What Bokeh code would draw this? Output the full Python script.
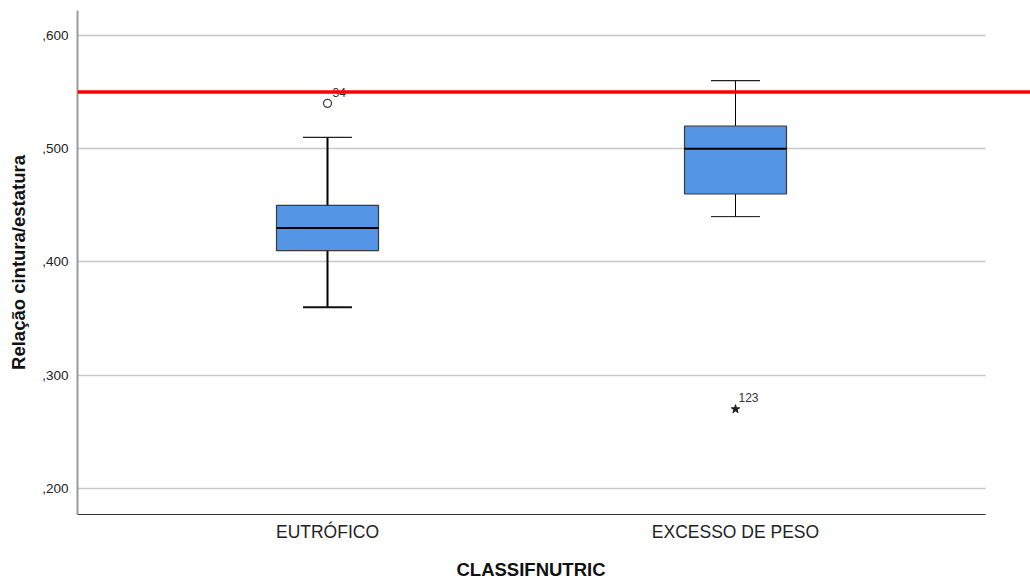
from bokeh.plotting import figure
from bokeh.models import FixedTicker, Span, ColumnDataSource, Title
from bokeh.core.properties import value
from bokeh.embed import file_html
from bokeh.resources import INLINE

# Box-plot summary per nutritional class
categories = ["EUTRÓFICO", "EXCESSO DE PESO"]
lower_whisker = [0.36, 0.44]
q1 = [0.41, 0.46]
median = [0.43, 0.50]
q3 = [0.45, 0.52]
upper_whisker = [0.51, 0.56]

# Outliers (circle) and extremes (star), with case numbers
outlier_group = [1]
outlier_value = [0.54]
outlier_case = ["34"]
extreme_group = [2]
extreme_value = [0.27]
extreme_case = ["123"]

# Reference cut-off
cutoff = 0.55

y_ticks = [0.2, 0.3, 0.4, 0.5, 0.6]
y_tick_labels = [",200", ",300", ",400", ",500", ",600"]

FONT = "Liberation Sans"
x_pos = [i + 1 for i in range(len(categories))]

px_per_unit = 408.0
x_start = 1 - 250 / px_per_unit
x_end = x_start + 953 / px_per_unit
grid_end = 2 + 250 / px_per_unit
y_start, y_end = 0.177, 0.622

p = figure(frame_width=953, frame_height=504, output_backend="svg", toolbar_location=None,
           x_range=(x_start, x_end), y_range=(y_start, y_end),
           min_border_left=77, min_border_right=0, min_border_top=10,
           min_border_bottom=65)
p.outline_line_color = None
p.background_fill_color = "white"
p.border_fill_color = "white"

# Horizontal grid
p.xgrid.visible = False
p.ygrid.ticker = FixedTicker(ticks=y_ticks)
p.ygrid.grid_line_color = "#c8c8c8"
p.ygrid.grid_line_width = 1.5
p.ygrid.cross_bounds = (x_start, grid_end)

# Axes
p.xaxis.ticker = FixedTicker(ticks=x_pos)
p.xaxis.major_label_overrides = {x: c for x, c in zip(x_pos, categories)}
p.xaxis.bounds = (x_start, grid_end)
p.xaxis.axis_line_color = "#333333"
p.xaxis.axis_line_width = 1
p.xaxis.major_tick_line_color = None
p.xaxis.minor_tick_line_color = None
p.xaxis.major_label_text_font = FONT
p.xaxis.major_label_text_font_size = "17.5px"
p.xaxis.major_label_text_color = "#222222"
p.xaxis.major_label_standoff = 1

# X title, centred under the drawn axis line rather than the whole frame
p.add_layout(Title(text="CLASSIFNUTRIC", align="left", offset=379,
                   text_font=FONT, text_font_size="18.5px", text_font_style="bold",
                   text_color="#111111", standoff=24), "below")

p.yaxis.ticker = FixedTicker(ticks=y_ticks)
p.yaxis.major_label_overrides = {t: l for t, l in zip(y_ticks, y_tick_labels)}
p.yaxis.axis_line_color = "#9a9a9a"
p.yaxis.axis_line_width = 2
p.yaxis.major_tick_line_color = None
p.yaxis.minor_tick_line_color = None
p.yaxis.major_label_text_font = FONT
p.yaxis.major_label_text_font_size = "13.5px"
p.yaxis.major_label_text_color = "#222222"
p.yaxis.major_label_standoff = 3
p.yaxis.axis_label = "Relação cintura/estatura"
p.yaxis.axis_label_text_font = FONT
p.yaxis.axis_label_text_font_size = "18.5px"
p.yaxis.axis_label_text_font_style = "bold"
p.yaxis.axis_label_text_color = "#111111"
p.yaxis.axis_label_standoff = 10

box_w = 0.25
cap_w = 0.12
stem_widths = [2, 1]

src = ColumnDataSource(dict(
    x=x_pos, lo=lower_whisker, q1=q1, med=median, q3=q3, hi=upper_whisker,
    left=[x - box_w / 2 for x in x_pos], right=[x + box_w / 2 for x in x_pos],
    cl=[x - cap_w / 2 for x in x_pos], cr=[x + cap_w / 2 for x in x_pos],
    sw=stem_widths,
))

# Whiskers
p.segment(x0="x", y0="q3", x1="x", y1="hi", source=src, line_color="black", line_width="sw")
p.segment(x0="x", y0="lo", x1="x", y1="q1", source=src, line_color="black", line_width="sw")
p.segment(x0="cl", y0="hi", x1="cr", y1="hi", source=src, line_color="#222222", line_width=1.2)
p.segment(x0="cl", y0="lo", x1="cr", y1="lo", source=src, line_color="#111111", line_width="sw")

# Boxes and medians
p.quad(left="left", right="right", bottom="q1", top="q3", source=src,
       fill_color="#5595e5", line_color="#3a3a3a", line_width=1.2)
p.segment(x0="left", y0="med", x1="right", y1="med", source=src,
          line_color="black", line_width=2)

# Outliers and extremes
p.scatter(outlier_group, outlier_value, marker="circle", size=8,
          fill_color="white", line_color="#444444", line_width=1.3)
p.text(outlier_group, outlier_value, text=outlier_case, x_offset=5, y_offset=-11,
       text_font=value(FONT), text_font_size="12px", text_color="#333333",
       text_baseline="middle", text_align="left")
p.scatter(extreme_group, extreme_value, marker="star", size=9,
          fill_color="#222222", line_color="#222222")
p.text(extreme_group, extreme_value, text=extreme_case, x_offset=3, y_offset=-12,
       text_font=value(FONT), text_font_size="12px", text_color="#333333",
       text_baseline="middle", text_align="left")

# Cut-off line
p.add_layout(Span(location=cutoff, dimension="width", line_color="#ff0000",
                  line_width=3.5))

open("out.html", "w").write(file_html(p, INLINE))
